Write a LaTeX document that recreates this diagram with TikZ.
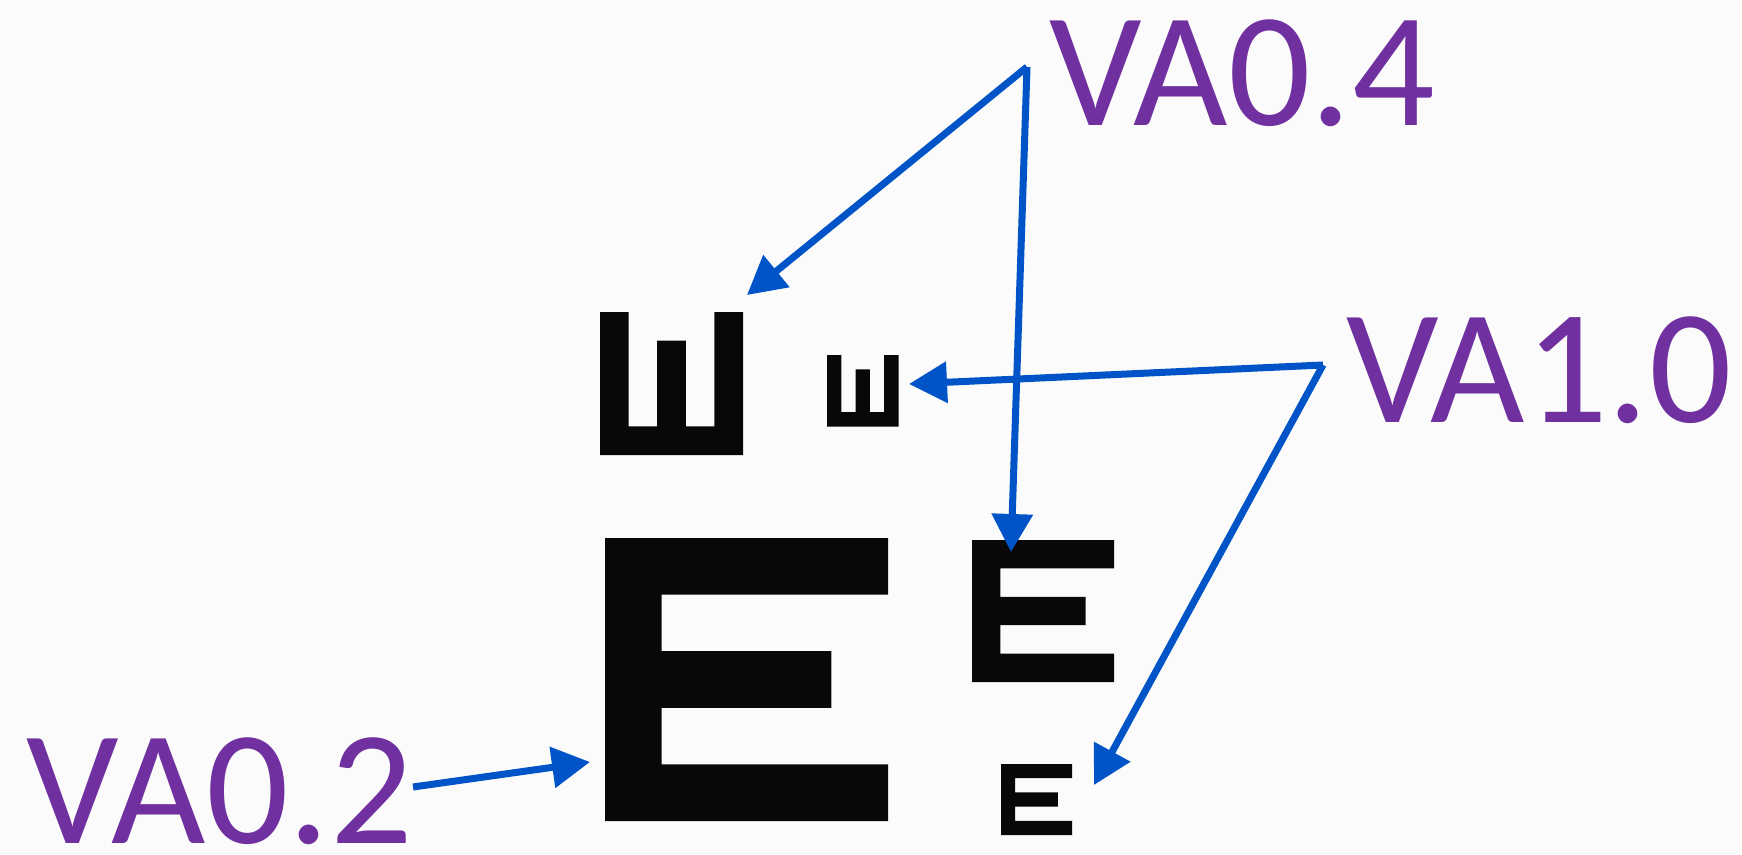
\documentclass[tikz,border=0pt]{standalone}
\usepackage{fontspec}
\setmainfont{Carlito}
\usetikzlibrary{arrows.meta}
\definecolor{vapurple}{RGB}{112,48,160}
\definecolor{arrblue}{RGB}{0,84,200}
\definecolor{ink}{RGB}{8,8,8}
\definecolor{bgcol}{RGB}{250,251,250}
\tikzset{
  valabel/.style={text=vapurple, inner sep=0pt, outer sep=0pt, anchor=base west,
    text depth=0pt, font=\fontsize{163}{163}\selectfont},
  pointer/.style={draw=arrblue, line width=7pt,
    -{Triangle[length=38pt,width=40pt]}},
  pics/letterE/.style={code={
    \fill[ink] (0,0) rectangle (5,1) (0,0) rectangle (1,5)
               (0,2) rectangle (4,3) (0,4) rectangle (5,5);}},
  pics/letterW/.style={code={
    \fill[ink] (0,0) rectangle (1,5) (4,0) rectangle (5,5)
               (0,4) rectangle (5,5) (2,1) rectangle (3,5);}}
}
\begin{document}
\begin{tikzpicture}[x=1pt,y=-1pt]
\fill[bgcol] (0,0) rectangle (1742,854);
\useasboundingbox (0,0) rectangle (1742,854);
% optotypes
\pic[scale=28.6] at (600,312) {letterW};
\pic[scale=14.3] at (827,355) {letterW};
\pic[scale=56.6] at (605,538) {letterE};
\pic[scale=28.4] at (972,540) {letterE};
\pic[scale=14.2] at (1001,764) {letterE};
% labels
\node[valabel] (va04) at (1049,125) {VA0.4};
\node[valabel] (va10) at (1346,422) {VA1.0};
\node[valabel] (va02) at (27,843) {VA0.2};
% connector end points
\coordinate (s04) at (1027,67);
\coordinate (s10) at (1323,365);
\coordinate (s02) at (413,787);
\coordinate (tWbig) at (747,295);
\coordinate (tEmed) at (1011,552);
\coordinate (tWsmall) at (909,384);
\coordinate (tEsmall) at (1094,785);
\coordinate (tEbig) at (590,762);
% connectors
\draw[pointer] (s04) -- (tWbig);
\draw[pointer] (s04) -- (tEmed);
\draw[pointer] (s10) -- (tWsmall);
\draw[pointer] (s10) -- (tEsmall);
\draw[pointer] (s02) -- (tEbig);
\end{tikzpicture}
\end{document}
